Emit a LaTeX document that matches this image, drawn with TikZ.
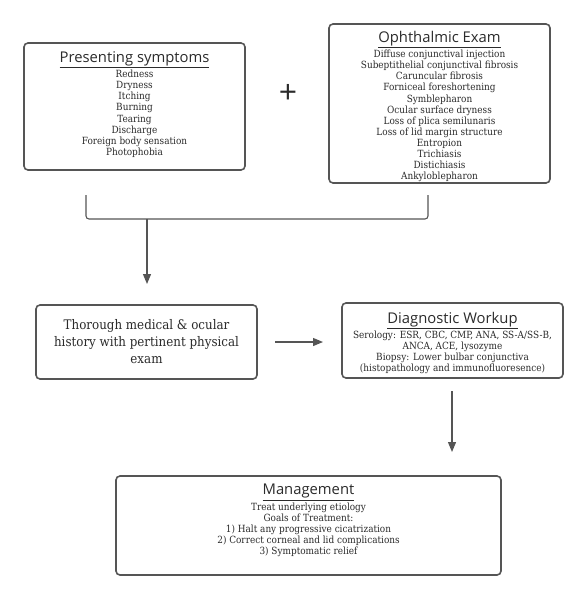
\documentclass[tikz,border=0pt]{standalone}
\usepackage{fontspec}
\setmainfont{DejaVu Serif Condensed}
\newfontfamily\hdfont{Open Sans}
\usetikzlibrary{arrows.meta}
\definecolor{bordergray}{HTML}{555555}
\definecolor{txtgray}{HTML}{2b2b2b}
\tikzset{
  box/.style={draw=bordergray, line width=1.6pt, rounded corners=4pt, fill=white},
  body/.style={text=txtgray, align=center, font=\fontsize{9.9}{11.1}\selectfont, inner sep=0pt},
  arr/.style={draw=bordergray, line width=1.2pt, -{Triangle[length=10pt,width=8pt]}},
  brk/.style={draw=bordergray, line width=1.1pt, rounded corners=3pt},
}
\newcommand{\hd}[1]{{\hdfont\fontsize{14.8}{15}\selectfont\underline{#1}}}
\begin{document}
\begin{tikzpicture}[x=1pt,y=-1pt]
\useasboundingbox (0,0) rectangle (587,599);
% boxes
\node[box, minimum width=221pt, minimum height=127pt] (ps) at (134.5,106.5) {};
\node[box, minimum width=221pt, minimum height=159pt] (oe) at (439.5,103.5) {};
\node[box, minimum width=221pt, minimum height=74pt] (th) at (146.5,342) {};
\node[box, minimum width=221pt, minimum height=75pt] (dw) at (452.5,340.5) {};
\node[box, minimum width=385pt, minimum height=99pt] (mg) at (308.5,525.5) {};
% texts
\node[body] (pst) at (134.5,104.5) {\hd{Presenting symptoms}\\[1.2pt] Redness\\ Dryness\\ Itching\\ Burning\\ Tearing\\ Discharge\\ Foreign body sensation\\ Photophobia};
\node[body] (oet) at (439.5,106.5) {\hd{Ophthalmic Exam}\\[1.2pt] Diffuse conjunctival injection\\ Subeptithelial conjunctival fibrosis\\ Caruncular fibrosis\\ Forniceal foreshortening\\ Symblepharon\\ Ocular surface dryness\\ Loss of plica semilunaris\\ Loss of lid margin structure\\ Entropion\\ Trichiasis\\ Distichiasis\\ Ankyloblepharon};
\node[body, font=\fontsize{13.2}{17}\selectfont] (tht) at (146.5,342) {Thorough medical \& ocular\\ history with pertinent physical\\ exam};
\node[body] (dwt) at (452.5,343) {\hd{Diagnostic Workup}\\[1.2pt] Serology: ESR, CBC, CMP, ANA, SS-A/SS-B,\\ ANCA, ACE, lysozyme\\ Biopsy: Lower bulbar conjunctiva\\ (histopathology and immunofluoresence)};
\node[body] (mgt) at (308.5,520.5) {\hd{Management}\\[1.2pt] Treat underlying etiology\\ Goals of Treatment:\\ 1) Halt any progressive cicatrization\\ 2) Correct corneal and lid complications\\ 3) Symptomatic relief};
\node[text=txtgray, font=\hdfont\fontsize{32}{32}\selectfont, inner sep=0pt] (plus) at (288,94) {+};
% bracket
\coordinate (bl) at (86,195);
\coordinate (br) at (428,195);
\coordinate (bj) at (147,219);
\coordinate (bt) at (147,284);
\draw[brk] (bl) |- (br |- bj) -- (br);
\draw[arr] (bj) -- (bt);
% arrows
\coordinate (ha) at (275,342);
\coordinate (hb) at (323,342);
\draw[arr] (ha) -- (hb);
\coordinate (va) at (452,391);
\coordinate (vb) at (452,452);
\draw[arr] (va) -- (vb);
\end{tikzpicture}
\end{document}
